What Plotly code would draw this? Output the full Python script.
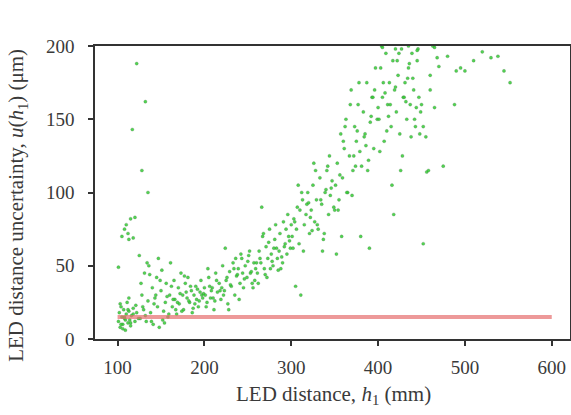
import plotly.graph_objects as go

# LED distance h1 (mm) and uncertainty u(h1) (um)
h1_mm = [
    # 100-125 low cluster
    101,102,103,104,105,106,107,108,109,110,111,112,113,114,115,116,118,120,122,124,103,106,109,112,115,118,121,104,108,113,
    # left outliers
    101,105,108,110,112,115,118,120,122,125,128,132,135,117,113,
    # 125-200
    126,128,130,131,133,135,136,138,140,141,143,145,146,148,150,151,153,155,156,158,160,161,163,165,166,168,170,171,173,175,176,178,180,181,183,185,186,188,190,191,193,195,196,198,200,
    127,132,137,142,147,152,157,162,167,172,177,182,187,192,197,
    129,139,149,159,169,179,189,199,
    134,144,154,164,174,184,194,
    # 200-260
    201,203,205,207,209,211,213,215,217,219,221,223,225,227,229,231,233,235,237,239,241,243,245,247,249,251,253,255,257,259,
    202,206,210,214,218,222,226,230,234,238,242,246,250,254,258,
    204,212,220,228,236,244,252,260,
    208,224,240,256,
    # 260-300
    261,263,265,267,269,271,273,275,277,279,281,283,285,287,289,291,293,295,297,299,
    262,266,270,274,278,282,286,290,294,298,
    264,272,280,288,296,
    268,276,284,292,300,
    # 300-350
    301,303,305,307,309,311,313,315,317,319,321,323,325,327,329,331,333,335,337,339,341,343,345,347,349,
    302,306,310,314,318,322,326,330,334,338,342,346,350,
    304,312,320,328,336,344,
    308,324,340,
    # 350-400
    351,353,355,357,359,361,363,365,367,369,371,373,375,377,379,381,383,385,387,389,391,393,395,397,399,
    352,356,360,364,368,372,376,380,384,388,392,396,400,
    354,362,370,378,386,394,
    358,374,390,
    # 400-460
    401,403,405,407,409,411,413,415,417,419,421,423,425,427,429,431,433,435,437,439,441,443,445,447,449,
    402,406,410,414,418,422,426,430,434,438,442,446,450,
    404,412,420,428,436,444,452,456,460,
    408,416,424,432,440,448,455,
    405,420,435,445,465,
    # sparse right
    452,458,463,468,475,480,488,495,500,510,520,530,538,545,552,470,490,460,465,
]
u_um = [
    12,18,8,22,15,10,20,14,6,17,25,11,19,13,9,16,21,12,18,14,24,7,13,20,11,17,23,10,15,28,
    49,70,75,78,72,82,69,83,188,57,115,162,100,143,68,
    14,30,20,45,12,26,50,18,35,10,28,42,22,8,33,47,19,25,38,15,30,52,22,40,27,17,35,24,45,30,20,38,28,42,25,33,18,30,36,27,22,32,40,28,35,
    38,16,44,24,55,13,29,36,20,31,43,26,21,34,30,
    22,12,40,17,25,32,24,31,
    52,30,11,27,19,36,26,
    30,25,42,28,35,20,45,32,38,27,50,33,40,24,46,36,52,30,43,48,38,55,35,50,42,57,45,38,52,48,
    22,36,28,40,33,30,42,37,48,44,58,41,53,46,40,
    48,26,35,20,55,45,60,52,
    33,62,27,35,
    45,60,52,70,48,63,55,75,58,50,68,62,47,72,56,80,65,58,70,62,
    38,90,44,66,53,78,60,52,75,67,
    55,42,62,48,85,
    72,48,55,63,78,
    70,82,36,90,65,30,95,78,85,100,72,88,105,80,95,75,110,92,68,100,115,85,98,108,90,
    62,75,88,60,92,83,120,78,95,72,118,103,88,
    80,100,93,115,60,125,
    105,74,102,
    105,120,95,140,110,130,150,100,125,170,115,145,135,160,128,118,155,140,175,122,148,165,130,185,150,
    58,112,135,100,160,125,142,70,138,115,152,170,158,
    88,145,98,175,132,165,
    70,118,62,
    150,185,165,135,195,160,175,145,190,170,155,180,140,198,165,175,150,185,160,195,170,145,190,165,155,
    128,175,142,160,85,190,115,165,178,138,150,198,160,
    200,152,172,125,188,158,145,114,180,
    168,105,195,162,178,140,138,
    199,198,200,197,199,
    65,115,200,192,118,193,160,185,183,190,196,192,193,183,175,186,183,170,158,
]

# Reference line (constant uncertainty)
ref_h1 = [100, 600]
ref_u = [15, 15]

x_title = "LED distance, <i>h</i><sub>1</sub> (mm)"
y_title = "LED distance uncertainty, <i>u</i>(<i>h</i><sub>1</sub>) (μm)"

fig = go.Figure()
fig.add_trace(go.Scatter(
    x=h1_mm, y=u_um, mode="markers",
    marker=dict(size=3.2, color="rgba(50,205,50,0.85)", line=dict(width=0.4, color="rgba(70,100,70,0.6)")),
    showlegend=False,
))
fig.add_trace(go.Scatter(
    x=ref_h1, y=ref_u, mode="lines",
    line=dict(color="rgba(230,110,110,0.7)", width=4),
    showlegend=False,
))

font_family = "Liberation Serif, DejaVu Serif, serif"
fig.update_layout(
    width=571, height=415,
    margin=dict(l=95, r=1, t=46, b=76),
    paper_bgcolor="white", plot_bgcolor="white",
    font=dict(family=font_family, size=19, color="#3a3a3a"),
    annotations=[
        dict(text=x_title, xref="paper", yref="paper", x=0.503, y=-0.19,
             showarrow=False, xanchor="center", yanchor="middle", font=dict(size=21)),
        dict(text=y_title, xref="paper", yref="paper", x=-0.164, y=0.455, textangle=-90,
             showarrow=False, xanchor="center", yanchor="middle", font=dict(size=21)),
    ],
)
fig.update_xaxes(
    range=[74, 621], tickvals=[100, 200, 300, 400, 500, 600],
    ticks="outside", ticklen=5, tickwidth=1.5, tickcolor="#333",
    showline=True, linewidth=1.5, linecolor="#333", mirror=True,
    showgrid=False, zeroline=False, automargin=False,
    ticklabelstandoff=5, tickfont=dict(size=19),
)
fig.update_yaxes(
    range=[0, 200], tickvals=[0, 50, 100, 150, 200],
    ticks="outside", ticklen=5, tickwidth=1.5, tickcolor="#333",
    showline=True, linewidth=1.5, linecolor="#333", mirror=True,
    showgrid=False, zeroline=False, automargin=False,
    ticklabelstandoff=10, tickfont=dict(size=19),
)
fig.write_html(
    "out.html",
    config={"displayModeBar": False},
    post_script="document.body.style.margin='0';document.body.style.overflow='hidden';",
)
